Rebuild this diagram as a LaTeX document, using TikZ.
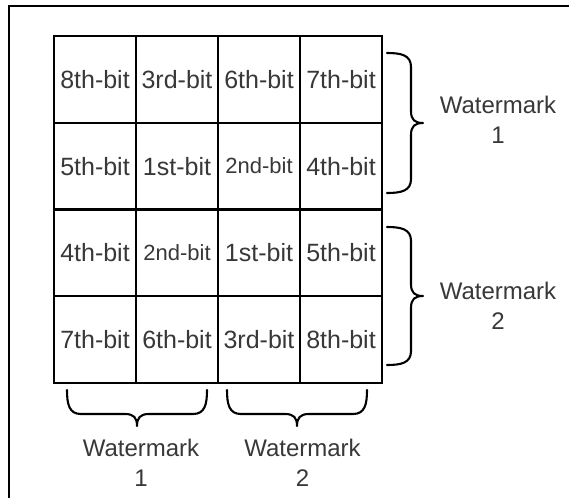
\documentclass[tikz,border=0pt]{standalone}
\usepackage{fontspec}
\setmainfont{Liberation Sans}
\definecolor{ink}{HTML}{383838}

% curly brace: vertical one at x=#1 from #2 to #3, bulging to the right
\newcommand\wmvbrace[3]{%
  \draw[bracepen] (#1,#2)
    .. controls ({#1+14},#2) and ({#1+24},{#2+2}) .. ({#1+24},{#2+14})
    -- ({#1+24},{(#2+#3)/2-12})
    .. controls ({#1+24},{(#2+#3)/2-3}) and ({#1+28},{(#2+#3)/2}) .. ({#1+36},{(#2+#3)/2})
    .. controls ({#1+28},{(#2+#3)/2}) and ({#1+24},{(#2+#3)/2+3}) .. ({#1+24},{(#2+#3)/2+12})
    -- ({#1+24},{#3-14})
    .. controls ({#1+24},{#3-2}) and ({#1+14},#3) .. (#1,#3);}
% curly brace: horizontal one at y=#1 from #2 to #3, bulging downwards
\newcommand\wmhbrace[3]{%
  \draw[bracepen] (#2,#1)
    .. controls (#2,{#1+14}) and ({#2+2},{#1+24}) .. ({#2+14},{#1+24})
    -- ({(#2+#3)/2-12},{#1+24})
    .. controls ({(#2+#3)/2-3},{#1+24}) and ({(#2+#3)/2},{#1+28}) .. ({(#2+#3)/2},{#1+36})
    .. controls ({(#2+#3)/2},{#1+28}) and ({(#2+#3)/2+3},{#1+24}) .. ({(#2+#3)/2+12},{#1+24})
    -- ({#3-14},{#1+24})
    .. controls ({#3-2},{#1+24}) and (#3,{#1+14}) .. (#3,#1);}

\begin{document}
\begin{tikzpicture}[x=1pt,y=-1pt,
  cell/.style={draw=black, line width=2pt, minimum width=82pt, minimum height=86.75pt,
    inner sep=0pt, text=ink, font=\fontsize{25}{30}\selectfont},
  smallbit/.style={font=\fontsize{22}{26}\selectfont},
  wmlabel/.style={align=center, text=ink, font=\fontsize{24}{30}\selectfont, inner sep=0pt},
  bracepen/.style={line width=2.1pt, line cap=round, line join=round}]
\useasboundingbox (0,0) rectangle (569,498);
\fill[white] (0,0) rectangle (569,498);

% frame
\draw[line width=2.3pt] (9,498) -- (9,6) -- (569,6);

% bit grid
\node[cell] (c11) at (95,79.4)  {8th-bit};
\node[cell] (c12) at (177,79.4) {3rd-bit};
\node[cell] (c13) at (259,79.4) {6th-bit};
\node[cell] (c14) at (341,79.4) {7th-bit};
\node[cell] (c21) at (95,166.1)  {5th-bit};
\node[cell] (c22) at (177,166.1) {1st-bit};
\node[cell,smallbit] (c23) at (259,166.1) {2nd-bit};
\node[cell] (c24) at (341,166.1) {4th-bit};
\node[cell] (c31) at (95,252.9)  {4th-bit};
\node[cell,smallbit] (c32) at (177,252.9) {2nd-bit};
\node[cell] (c33) at (259,252.9) {1st-bit};
\node[cell] (c34) at (341,252.9) {5th-bit};
\node[cell] (c41) at (95,339.6)  {7th-bit};
\node[cell] (c42) at (177,339.6) {6th-bit};
\node[cell] (c43) at (259,339.6) {3rd-bit};
\node[cell] (c44) at (341,339.6) {8th-bit};

% braces
\wmvbrace{387}{53}{193}
\wmvbrace{387}{227}{365}
\wmhbrace{390}{67}{207}
\wmhbrace{390}{227}{367}

% watermark labels
\node[wmlabel] (r1) at (498,119.5) {Watermark\\1};
\node[wmlabel] (r2) at (498,305.5) {Watermark\\2};
\node[wmlabel] (b1) at (141,463) {Watermark\\1};
\node[wmlabel] (b2) at (302.5,463) {Watermark\\2};
\end{tikzpicture}
\end{document}
